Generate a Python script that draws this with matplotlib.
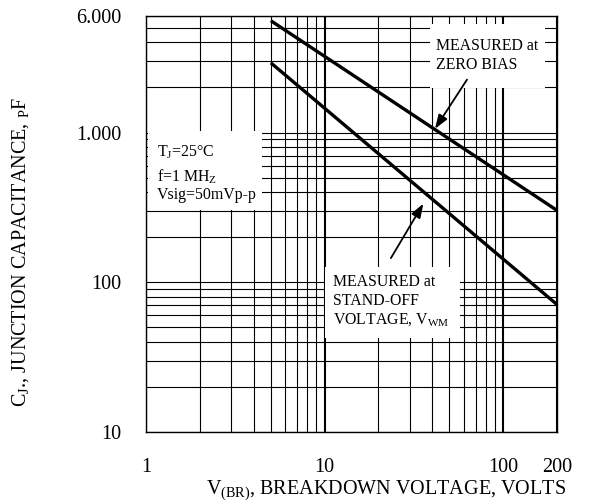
import numpy as np
import matplotlib
matplotlib.use("Agg")
import matplotlib.pyplot as plt
from matplotlib.ticker import LogLocator, NullFormatter, FixedLocator, FixedFormatter
from matplotlib.patches import Rectangle

plt.rcParams['font.family'] = ['Liberation Serif', 'DejaVu Serif']
plt.rcParams['mathtext.fontset'] = 'custom'
plt.rcParams['mathtext.rm'] = 'Liberation Serif'
plt.rcParams['mathtext.it'] = 'Liberation Serif:italic'
plt.rcParams['mathtext.bf'] = 'Liberation Serif:bold'

# ---- data ----
zero_bias_v = [5, 200]
zero_bias_c = [5580, 302]
standoff_v = [5, 200]
standoff_c = [2920, 71]

x_ticks = [1, 10, 100, 200]
x_ticklabels = ["1", "10", "100", "200"]
y_ticks = [10, 100, 1000, 6000]
y_ticklabels = ["10", "100", "1.000", "6.000"]

fig = plt.figure(figsize=(5.89, 5.04), dpi=100)
ax = fig.add_axes([146/589, 72/504, 411/589, 416/504])
ax.set_xscale('log')
ax.set_yscale('log')
ax.set_xlim(1, 200)
ax.set_ylim(10, 6000)

ax.xaxis.set_major_locator(FixedLocator(x_ticks))
ax.xaxis.set_major_formatter(FixedFormatter(x_ticklabels))
ax.yaxis.set_major_locator(FixedLocator(y_ticks))
ax.yaxis.set_major_formatter(FixedFormatter(y_ticklabels))
for a in (ax.xaxis, ax.yaxis):
    a.set_minor_locator(LogLocator(base=10, subs=np.arange(2, 10)))
    a.set_minor_formatter(NullFormatter())

ax.set_axisbelow(True)
ax.xaxis.grid(True, which='major', color='black', lw=1.5)
ax.xaxis.grid(True, which='minor', color='black', lw=0.8)
ax.yaxis.grid(True, which='both', color='black', lw=0.8)

ax.tick_params(which='both', length=0)
ax.tick_params(axis='x', labelsize=14.5, pad=19)
ax.tick_params(axis='y', labelsize=14.5, pad=17.7)
for s in ax.spines.values():
    s.set_linewidth(1.0)
    s.set_color('black')

# white label boxes that interrupt the grid
for (x0, y0, w, h) in [(0.004, 0.534, 0.278, 0.19),
                       (0.4355, 0.226, 0.3285, 0.171),
                       (0.691, 0.827, 0.28, 0.154)]:
    ax.add_patch(Rectangle((x0, y0), w, h, transform=ax.transAxes,
                           facecolor='white', edgecolor='none', zorder=1))

ax.plot(zero_bias_v, zero_bias_c, color='black', lw=2.4, zorder=3, solid_capstyle='butt')
ax.plot(standoff_v, standoff_c, color='black', lw=2.4, zorder=3, solid_capstyle='butt')

afs = 11.4
tk = dict(transform=ax.transAxes, fontsize=afs, va='baseline', ha='left', zorder=4)
ax.text(0.026, 0.662, r"T$_\mathregular{J}$=25°C", **tk)
ax.text(0.026, 0.603, r"f=1 MH$_\mathregular{Z}$", **tk)
ax.text(0.026, 0.560, "Vsig=50mVp-p", **tk)

ax.text(0.456, 0.352, "MEASURED at", **tk)
ax.text(0.456, 0.305, "STAND-OFF", **tk)
ax.text(0.456, 0.260, r"VOLTAGE, V$_\mathregular{WM}$", **tk)

ax.text(0.7056, 0.918, "MEASURED at", **tk)
ax.text(0.7056, 0.872, "ZERO BIAS", **tk)

ap = dict(arrowstyle='-|>,head_length=0.7,head_width=0.25', color='black', lw=1.3,
          shrinkA=0, shrinkB=0, mutation_scale=12)
ax.annotate("", xy=(41.5, 1059), xytext=(62.7, 2256), arrowprops=ap, zorder=5)
ax.annotate("", xy=(35.7, 335), xytext=(23.5, 145), arrowprops=ap, zorder=5)

ax.set_xlabel(r"V$_\mathregular{(BR)}$, BREAKDOWN VOLTAGE, VOLTS", fontsize=14.5)
ax.xaxis.set_label_coords(0.583, -0.112)
ax.set_ylabel(r"C$_\mathregular{J}$., JUNCTION CAPACITANCE, $_\mathregular{P}$F", fontsize=14.5)
ax.yaxis.set_label_coords(-0.28, 0.4315)

fig.savefig("out.png", dpi=100)
